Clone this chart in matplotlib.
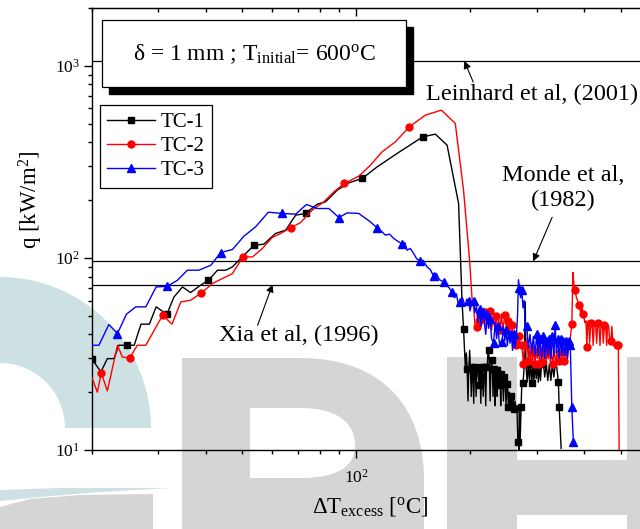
import numpy as np
import matplotlib
matplotlib.use("Agg")
import matplotlib.pyplot as plt
from matplotlib.patches import Rectangle, Wedge, Polygon, PathPatch
from matplotlib.path import Path
from matplotlib.transforms import Affine2D

plt.rcParams['font.family'] = ['Liberation Serif', 'DejaVu Serif']
plt.rcParams['mathtext.fontset'] = 'custom'
plt.rcParams['mathtext.rm'] = 'Liberation Serif'
plt.rcParams['mathtext.it'] = 'Liberation Serif:italic'
plt.rcParams['mathtext.bf'] = 'Liberation Serif:bold'

# ---------------- data ----------------
tc1_dt = [20.0, 21.15, 22.0, 22.9, 23.6, 24.85, 25.9, 27.0, 28.4, 29.6, 31.6, 33.0, 34.75, 36.5, 38.8,
          40.7, 43.0, 45.2, 47.1, 50.0, 53.7, 57.0, 61.2, 65.1, 69.2, 73.5, 78.9, 82.95, 89.1, 95.6,
          103.7, 113.6, 128.3, 149.9, 161.9, 173.9, 186.5, 190.4, 192.2, 194.3,
          195.5, 196.5, 197.5, 198.5, 199.5, 200.5, 201.5, 202.5, 203.5, 204.5, 205.5, 206.6, 207.5, 208.5, 209.5,
          211.4, 212.5, 213.5, 214.5, 215.5, 216.7, 218, 219, 220, 221, 222, 223, 224, 225, 226,
          227, 228, 229, 230, 231, 232, 233, 234, 235, 236, 237, 238.6, 240, 241, 242,
          243.6, 245, 246, 247.7, 249, 250, 251.5, 252.6, 254, 255, 256.5, 258, 259.5, 261, 262.9,
          264.5, 266, 267.5, 268.5, 269, 270, 271, 272.8, 274, 276, 278, 279.8, 281, 283, 285,
          287, 289, 291.3, 293, 295, 297, 299, 301, 303, 305, 307, 309, 312.6, 315, 318,
          321, 324, 327, 330, 333, 336, 339, 342.3, 344, 348.1]
tc1_q = [29.9, 25.5, 29.9, 29.9, 35.1, 35.1, 35.1, 45.2, 45.2, 55.6, 50.9, 62.6, 70.6, 66.0, 72.1,
         76.5, 86.3, 86.3, 89.8, 101.2, 116.4, 117.9, 134.0, 139.4, 166.9, 170.4, 190.4, 195.7, 225.3, 245.8,
         259.1, 297.8, 349.8, 426.8, 440.9, 386.4, 192.0, 60.2, 42.9, 27.1,
         32, 26.5, 18, 27, 33, 26.5, 19, 27, 26, 17.5, 27, 26.5, 19, 27, 26.5,
         21.7, 26.5, 17.5, 27, 26.5, 19, 27, 26, 17, 27, 26.5, 33.1, 33.1, 27, 18,
         27, 29.3, 26.5, 19, 27, 26.5, 17, 27, 26, 19, 26.5, 21.7, 26, 17, 25,
         24, 18, 24, 22, 17, 22, 21, 16.7, 20, 17, 19, 16.5, 19, 16.3, 18,
         16, 17, 11, 11.0, 10, 16.5, 10.5, 16.7, 22.2, 22.2, 27, 59, 28.2, 22.5, 28.2,
         23, 28.2, 22.2, 28.2, 23, 28.2, 23.5, 28.2, 22.5, 28, 23, 28.2, 28.2, 24, 28,
         23, 28, 23, 28, 24, 28, 27, 22.6, 16.7, 10.2]
tc1_marks = [20.0, 24.85, 31.6, 40.7, 53.7, 73.5, 103.7, 149.9, 192.2,
             196.5, 202.5, 205.5, 209.5, 211.4, 214.5, 218, 221, 224, 228, 232, 235, 238.6, 242,
             246, 250, 252.6, 256.5, 261, 268.5, 272.8, 276, 281, 285, 291.3, 297, 305, 312.6,
             342.3, 344]

tc2_dt = [20.0, 20.7, 21.2, 22.0, 23.4, 24.1, 25.2, 26.4, 27.8, 30.8, 32.6, 34.4, 36.5, 39.0, 41.7,
          44.3, 47.1, 50.2, 53.2, 56.5, 60.0, 63.1, 67.1, 71.3, 76.5, 82.1, 87.3, 93.1, 101.6, 109.1,
          117.1, 126.9, 138.2, 152.3, 168.0, 182.8, 192.2, 199.4, 202.3,
          204.5, 206, 208, 209.5, 211, 212.5, 214, 216.5, 218, 219.5, 221, 222.5, 224, 226, 228,
          230, 232, 234, 236, 238, 240, 242, 244, 247.7, 250, 252, 254, 256, 258, 260,
          262, 264, 266, 268, 270, 272, 273.9, 276.8, 279, 281, 283, 285, 287, 289, 291,
          293, 295, 297, 299, 301, 303, 305, 307, 309.7, 312, 314, 316, 318, 320, 322,
          324, 326, 328, 330.9, 334, 337, 340, 343, 346, 349, 352, 355, 358, 361, 364,
          368, 371.5, 374, 376.5, 379, 382, 385, 388.4, 392, 395, 398.7, 402, 405, 407, 409,
          411, 414, 417, 420, 423, 426, 429, 432, 435, 438, 441, 444, 447, 450, 453,
          456, 459, 462, 465, 468, 471, 474, 477, 480, 484, 488.4, 493, 495.5]
tc2_q = [24.0, 20.0, 25.2, 20.3, 35.1, 30.5, 30.1, 35.1, 35.1, 50.3, 45.2, 59.0, 60.2, 65.7, 73.6,
         78.1, 82.9, 101.2, 101.2, 111.9, 127.7, 134.0, 143.3, 152.8, 177.2, 195.7, 220.7, 244.1, 266.4, 304.1,
         356.6, 401.9, 481.3, 553.6, 587.8, 501.2, 225.3, 97.3, 62.6,
         55, 45, 43.8, 52, 47, 55, 48, 52.5, 45, 52, 43, 50, 46, 53, 42,
         49, 44, 50, 41, 48, 42, 51, 43, 50.3, 41, 47, 40, 44, 44.6, 37,
         42, 35, 40, 34, 39, 34, 35.1, 28.2, 37, 33, 38, 29, 35, 28, 36,
         29, 35, 28, 34, 30, 36, 28, 34, 28.7, 35, 29, 34, 28, 34, 30,
         35, 28, 33, 28.2, 33, 28, 33, 29, 33, 29, 34, 29, 33, 30, 36,
         38, 45.5, 84, 72, 68.4, 62, 60, 57.2, 52, 55, 51.3, 46, 47, 34.4, 46,
         47, 36, 46, 47, 35, 46, 46, 36, 46, 45, 35, 46, 46, 36, 45,
         46, 35, 45, 44, 36, 37, 44, 36, 35, 36, 35, 35.1, 10]
tc2_marks = [21.2, 25.2, 30.8, 39.0, 50.2, 67.1, 93.1, 138.2, 208, 211, 216.5, 219.5, 226, 234,
             240, 247.7, 252, 258, 264, 270, 273.9, 276.8, 285, 297, 305, 309.7, 320, 330.9, 343,
             355, 371.5, 379, 388.4, 398.7, 407, 417, 435, 453, 471, 488.4, 493]

tc3_dt = [20.0, 20.9, 22.2, 23.4, 24.7, 26.15, 27.8, 29.6, 31.7, 33.7, 35.8, 38.4, 41.3, 43.85, 47.1,
          50.5, 54.2, 58.6, 63.7, 69.2, 73.9, 78.9, 84.7, 90.0, 94.7, 101.6, 109.1, 113.6, 116.5, 119.5,
          122.5, 125.7, 129, 132.2, 134.5, 136.3, 139, 141.9, 144.5, 147.8, 150.5, 153.9, 157, 160.2, 163,
          166, 170.3, 173.5, 176, 178.8,
          182, 184, 186, 188.4, 191, 194, 196, 198.2, 200, 202, 204.3, 206, 208, 210, 212,
          214, 216, 218, 220, 222, 224, 226, 228, 230.7, 233, 235, 237, 239, 242.6, 245,
          247, 249, 251, 253, 255, 257, 259, 261, 263, 265, 267, 268.5, 270, 272, 274,
          276, 278, 279.8, 282.6, 285, 288, 291, 294, 297, 300, 303, 306, 309, 312, 315,
          318, 321, 324, 327, 330, 333, 335.7, 338, 341, 344, 347, 350, 353, 356, 359,
          362, 365, 368, 371.5, 375]
tc3_q = [35.1, 35.1, 45.0, 40.4, 50.9, 55.6, 55.6, 70.6, 71.2, 76.5, 86.3, 86.3, 91.6, 106.7, 110.6,
         129.7, 145.0, 173.0, 170.4, 168.9, 189.7, 180.8, 180.8, 162.3, 171.6, 170.4, 153.9, 143.3, 138, 131.3,
         133, 126.2, 122, 117.9, 120, 109.7, 112, 105.4, 99, 96.1, 97, 89.8, 87, 80.3, 83,
         77, 75.0, 72, 70, 66.5,
         62, 65, 58, 59, 62, 56, 61, 60, 53, 58, 60, 52, 56, 46, 54,
         44, 52, 47, 40, 51, 43, 48, 38, 36, 46, 38, 44, 36, 36.5, 44,
         37, 42, 35, 41, 36, 40, 33, 40, 34, 39, 50, 77, 70, 62, 68,
         55, 60, 43.5, 44, 34, 40, 32, 39, 31, 40, 31, 38, 30, 39, 30,
         37, 31, 38, 30, 39, 31, 45, 32, 38, 30, 38, 31, 37, 31, 37,
         30, 37, 35, 16.7, 11]
tc3_marks = [23.4, 31.7, 43.85, 63.7, 90.0, 113.6, 132.2, 147.8, 160.2, 170.3, 178.8, 188.4, 198.2,
             204.3, 212, 216, 222, 226, 230.7, 237, 242.6, 249, 257, 261, 270, 274, 282.6, 300, 306,
             312, 318, 324, 330, 335.7, 341, 347, 353, 359, 365, 368, 371.5, 375]

series_labels = ['TC-1', 'TC-2', 'TC-3']
ref_leinhard = 1060.0
ref_monde = 96.0
ref_xia = 72.7

# ---------------- figure ----------------
W, H = 640, 529
fig = plt.figure(figsize=(W / 100, H / 100), dpi=100)
fig.patch.set_facecolor('white')
PX = Affine2D().scale(1 / W, -1 / H).translate(0, 1) + fig.transFigure

# watermark (background)
teal = '#cde1e2'
grey = '#d5d5d5'
fig.add_artist(Wedge((0, 428), 151, -90, 0, width=86, transform=PX, color=teal, zorder=-2, lw=0))
fig.add_artist(Polygon([(0, 490), (60, 488), (171, 488), (100, 492), (40, 497), (0, 501)],
                       closed=True, transform=PX, color=teal, zorder=-2, lw=0))
fig.add_artist(Polygon([(0, 507), (30, 499), (80, 495), (153, 494), (153, 540), (0, 540)],
                       closed=True, transform=PX, color=grey, zorder=-2, lw=0))
p_verts = [(182, 358), (300, 358), (385, 358), (424, 410), (424, 480), (424, 540), (182, 540), (182, 358)]
p_codes = [Path.MOVETO, Path.LINETO, Path.CURVE4, Path.CURVE4, Path.CURVE4, Path.LINETO, Path.LINETO, Path.CLOSEPOLY]
fig.add_artist(PathPatch(Path(p_verts, p_codes), transform=PX, color=grey, zorder=-2, lw=0))
h_verts = [(250, 408), (300, 408), (340, 408), (355, 425), (355, 445), (355, 465), (340, 478), (300, 478),
           (250, 478), (250, 408)]
h_codes = [Path.MOVETO, Path.LINETO, Path.CURVE4, Path.CURVE4, Path.CURVE4, Path.CURVE4, Path.CURVE4,
           Path.CURVE4, Path.LINETO, Path.CLOSEPOLY]
fig.add_artist(PathPatch(Path(h_verts, h_codes), transform=PX, color='white', zorder=-1.5, lw=0))
fig.add_artist(Rectangle((447, 357), 70, 200, transform=PX, color=grey, zorder=-2, lw=0))
fig.add_artist(Rectangle((627, 357), 40, 200, transform=PX, color=grey, zorder=-2, lw=0))
fig.add_artist(Rectangle((517, 460), 110, 55, transform=PX, color=grey, zorder=-2, lw=0))

# axes
ax = fig.add_axes([91.7 / W, 1 - 450 / H, (650.6 - 91.7) / W, (450 - 8) / H])
ax.set_facecolor('none')
ax.set_xscale('log')
ax.set_yscale('log')
ax.set_xlim(20, 600)
ax.set_ylim(10, 2000)
ax.xaxis.set_minor_formatter(matplotlib.ticker.NullFormatter())
ax.yaxis.set_minor_formatter(matplotlib.ticker.NullFormatter())
for s in ax.spines.values():
    s.set_linewidth(1.0)
ax.tick_params(which='both', direction='out', top=False, right=False, labelsize=12.5, width=1.0)
ax.tick_params(which='major', length=5.5)
ax.tick_params(which='minor', length=3.0)
ax.tick_params(axis='x', which='both', pad=8)
ax.tick_params(axis='y', which='both', pad=3)

top = ax.twiny()
top.set_xscale('log')
top.set_xlim(ax.get_xlim())
top.tick_params(which='both', direction='in', labeltop=False, width=1.0)
top.tick_params(which='major', length=5.5)
top.tick_params(which='minor', length=3.0)
top.xaxis.set_minor_formatter(matplotlib.ticker.NullFormatter())
for k in ['left', 'right', 'bottom']:
    top.spines[k].set_visible(False)

# reference lines
for yv in (ref_leinhard, ref_monde, ref_xia):
    ax.axhline(yv, color='black', lw=0.9, zorder=1)

styles = [('black', 's', 4.3), ('#ff0000', 'o', 5.0), ('#0000ff', '^', 5.5)]
for (dt, q, marks), (col, mk, ms), lab in zip([(tc1_dt, tc1_q, tc1_marks), (tc2_dt, tc2_q, tc2_marks),
                                               (tc3_dt, tc3_q, tc3_marks)], styles, series_labels):
    dt = np.asarray(dt)
    idx = list(np.nonzero(np.isin(dt, marks))[0])
    ax.plot(dt, q, color=col, lw=1.0, marker=mk, ms=ms, markevery=idx, label=lab, zorder=3)

leg = ax.legend(loc='upper left', bbox_to_anchor=(100 / W, 1 - 105 / H), bbox_transform=fig.transFigure,
                frameon=True, fancybox=False, edgecolor='black', framealpha=1, fontsize=15,
                handlelength=2.3, handletextpad=0.25, labelspacing=0.22, borderpad=0.35, borderaxespad=0)
leg.get_frame().set_linewidth(0.9)
leg.set_zorder(6)

# annotations
arrow = dict(arrowstyle='-|>', color='black', lw=0.8, mutation_scale=11, shrinkA=0, shrinkB=0)
ax.annotate('', xy=(193.1, ref_leinhard), xytext=(203.9, 822.7), arrowprops=arrow, zorder=4)
ax.text(291.9, 712, 'Leinhard et al, (2001)', ha='center', va='center', fontsize=17.5, zorder=4)
ax.annotate('', xy=(293.7, ref_monde), xytext=(329.6, 162.9), arrowprops=arrow, zorder=4)
ax.text(352.4, 230.7, 'Monde et al,\n(1982)', ha='center', va='center', fontsize=17.5, linespacing=1.2, zorder=4)
ax.annotate('', xy=(60.1, ref_xia), xytext=(54.9, 44.6), arrowprops=arrow, zorder=4)
ax.text(70.4, 39.6, 'Xia et al, (1996)', ha='center', va='center', fontsize=17.5, zorder=4)

# condition box with shadow
fig.add_artist(Rectangle((109, 27), 304, 67, transform=PX, facecolor='black', edgecolor='black', zorder=5))
fig.add_artist(Rectangle((102, 20), 304, 67, transform=PX, facecolor='white', edgecolor='black', lw=0.9, zorder=5.5))
fig.text(254, 54, r'δ = 1 mm ; T$_{\mathrm{initial}}$= 600$^{\mathrm{o}}$C', transform=PX,
         ha='center', va='center', fontsize=17, zorder=6)

# axis labels
fig.text(31, 200, r'q [kW/m$^{\mathrm{2}}$]', transform=PX, rotation=90, ha='center', va='center', fontsize=16.5)
fig.text(370, 507, r'ΔT$_{\mathrm{excess}}$ [$^{\mathrm{o}}$C]', transform=PX, ha='center', va='center', fontsize=16.5)

fig.savefig('out.png', dpi=100)
